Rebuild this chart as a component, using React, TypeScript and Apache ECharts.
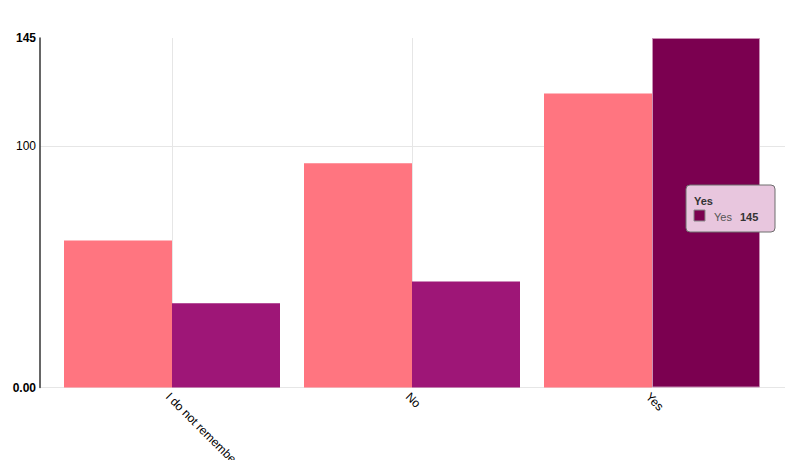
import React, { useEffect, useRef } from "react";
import * as echarts from "echarts";

const categories = ["I do not remember", "No", "Yes"];
const seriesNames = ["No", "Yes"];
const valuesA = [61, 93, 122];
const valuesB = [35, 44, 145];
const yMax = 145;
const highlightIndex = 2;
const tooltipTitle = "Yes";

const PINK = "#ff7580";
const PURPLE = "#9e1677";
const DARK = "#7b0050";
const FONT = "Liberation Sans, Arial, sans-serif";

export default function App() {
  const ref = useRef<HTMLDivElement>(null);
  useEffect(() => {
    if (!ref.current) return;
    const chart = echarts.init(ref.current, undefined, { renderer: "svg" });
    const dataB = valuesB.map((v, i) =>
      i === highlightIndex
        ? { value: v, itemStyle: { color: DARK, borderColor: "#c98fb5", borderWidth: 1 } }
        : v
    );
    chart.setOption({
      animation: false,
      backgroundColor: "#ffffff",
      grid: [
        { left: 40, right: 7, top: 38, bottom: 72.5, outerBoundsMode: "none", containLabel: false },
        { left: 52, right: 20, top: 38, bottom: 72.5, outerBoundsMode: "none", containLabel: false },
      ],
      xAxis: [
        { type: "value", gridIndex: 0, show: false, min: 0, max: 1 },
        {
          type: "category",
          gridIndex: 1,
          data: categories,
          axisLine: { show: false },
          axisTick: { show: false },
          splitLine: { show: false },
          axisLabel: {
            rotate: -45,
            color: "#000",
            fontSize: 12,
            fontFamily: FONT,
            margin: 3,
            verticalAlign: "top",
            interval: 0,
          },
        },
      ],
      yAxis: [
        {
          type: "value",
          gridIndex: 0,
          min: 0,
          max: yMax,
          interval: 100,
          axisLine: { show: true, lineStyle: { color: "#333", width: 1.5 } },
          axisTick: { show: false },
          splitLine: {
            show: true,
            showMaxLine: false,
            lineStyle: { color: "#e6e6e6", width: 1 },
          },
          axisLabel: {
            showMaxLabel: true,
            margin: 4,
            fontFamily: FONT,
            fontSize: 12,
            color: "#000",
            formatter: (v: number) =>
              v === 0 ? "{b|0.00}" : v === yMax ? "{b|" + v + "}" : "{n|" + v + "}",
            rich: {
              b: { fontWeight: "bold", fontSize: 12, color: "#000", fontFamily: FONT },
              n: { fontSize: 12, color: "#000", fontFamily: FONT },
            },
          },
        },
        { type: "value", gridIndex: 1, min: 0, max: yMax, show: false, splitLine: { show: false } },
      ],
      series: [
        {
          name: "guides",
          type: "line",
          xAxisIndex: 1,
          yAxisIndex: 1,
          data: [],
          silent: true,
          z: 1,
          markLine: {
            silent: true,
            symbol: "none",
            z: 1,
            label: { show: false },
            lineStyle: { color: "#e6e6e6", width: 1, type: "solid" },
            data: categories.map((c) => ({ xAxis: c })),
          },
        },
        {
          name: seriesNames[0],
          type: "bar",
          xAxisIndex: 1,
          yAxisIndex: 1,
          data: valuesA,
          itemStyle: { color: PINK },
          barGap: "0%",
          barCategoryGap: "10%",
          z: 2,
        },
        {
          name: seriesNames[1],
          type: "bar",
          xAxisIndex: 1,
          yAxisIndex: 1,
          data: dataB,
          itemStyle: { color: PURPLE },
          barGap: "0%",
          barCategoryGap: "10%",
          z: 2,
        },
      ],
      graphic: [
        {
          type: "group",
          x: 686,
          y: 185,
          z: 100,
          children: [
            {
              type: "rect",
              z: 100,
              shape: { x: 0, y: 0, width: 89, height: 47, r: 4 },
              style: { fill: "#e8c6de", stroke: "#6e6e6e", lineWidth: 1 },
            },
            {
              type: "text",
              z: 101,
              x: 8,
              y: 10,
              style: { text: tooltipTitle, fill: "#333", font: "bold 11px " + FONT },
            },
            {
              type: "rect",
              z: 101,
              shape: { x: 8, y: 25, width: 11, height: 11 },
              style: { fill: DARK, stroke: "#888", lineWidth: 1 },
            },
            {
              type: "text",
              z: 101,
              x: 28,
              y: 26,
              style: { text: seriesNames[1], fill: "#555", font: "11px " + FONT },
            },
            {
              type: "text",
              z: 101,
              x: 54,
              y: 26,
              style: { text: String(valuesB[highlightIndex]), fill: "#333", font: "bold 11px " + FONT },
            },
          ],
        },
      ],
    });
    return () => chart.dispose();
  }, []);
  return (
    <div
      ref={ref}
      style={{ position: "fixed", left: 0, top: 0, width: 792, height: 460, background: "#fff" }}
    />
  );
}
